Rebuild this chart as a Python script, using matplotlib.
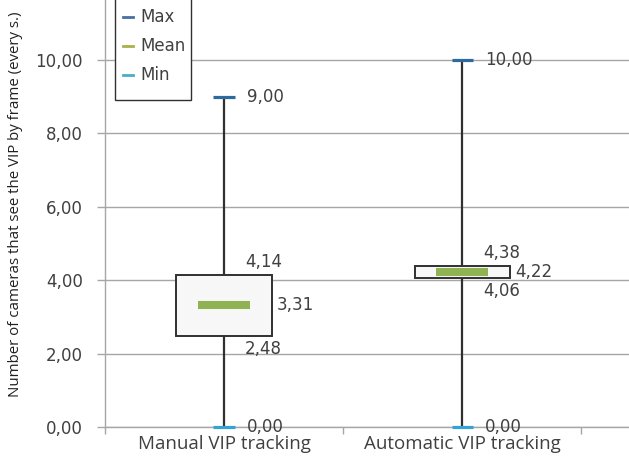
import matplotlib
matplotlib.use("Agg")
import matplotlib.pyplot as plt
from matplotlib.lines import Line2D
from matplotlib.patches import Rectangle
from matplotlib.ticker import FixedLocator, FuncFormatter

categories = ["Manual VIP tracking", "Automatic VIP tracking"]
max_vals = [9.00, 10.00]
q3_vals = [4.14, 4.38]
mean_vals = [3.31, 4.22]
q1_vals = [2.48, 4.06]
min_vals = [0.00, 0.00]
yticks = [0, 2, 4, 6, 8, 10]
legend_labels = ["Max", "Mean", "Min"]
legend_colors = ["#4a6fa0", "#a8b04a", "#4bacc6"]

def fmt(v):
    return f"{v:.2f}".replace(".", ",")

W, H = 629, 459
fig = plt.figure(figsize=(W / 100, H / 100), dpi=100)
left_px, bottom_px = 105, 32
ax = fig.add_axes([left_px / W, bottom_px / H, 1 - left_px / W, 1 - bottom_px / H])

def fx(px):
    return px / W

def fy(py):
    return 1 - py / H

x = [1, 2]
grid_c = "#a6a6a6"
text_c = "#404040"

ax.set_xlim(0.5, 2.70)
ax.set_ylim(0, 11.63)

for s in ["top", "right"]:
    ax.spines[s].set_visible(False)
for s in ["left", "bottom"]:
    ax.spines[s].set_color(grid_c)
    ax.spines[s].set_linewidth(1.0)

ax.set_yticks(yticks)
ax.yaxis.set_major_formatter(FuncFormatter(lambda v, p: fmt(v)))
ax.yaxis.grid(True, color=grid_c, linewidth=1.0, zorder=0)
ax.set_axisbelow(True)
ax.tick_params(axis="y", length=6, width=1, color=grid_c, pad=10,
               labelsize=12, labelcolor=text_c)
for t in ax.get_yticklabels():
    t.set_fontfamily("DejaVu Sans")

ax.set_xticks(x)
ax.set_xticklabels(categories, fontfamily="Open Sans", fontsize=13.5, color=text_c)
ax.tick_params(axis="x", which="major", length=0, pad=6)
ax.xaxis.set_minor_locator(FixedLocator([0.5, 1.5, 2.5]))
ax.tick_params(axis="x", which="minor", length=5, width=1, color=grid_c)

ax.set_ylabel("Number of cameras that see the VIP by frame (every s.)",
              fontfamily="Open Sans", fontsize=10.8, color="#202020")
ax.yaxis.set_label_coords(-0.157, 0.522)

# whiskers
ax.vlines(x, min_vals, max_vals, color="#303030", linewidth=1.6, zorder=2)
# boxes
heights = [a - b for a, b in zip(q3_vals, q1_vals)]
ax.bar(x, heights, bottom=q1_vals, width=0.40, color="#f7f7f7",
       edgecolor="#303030", linewidth=1.4, zorder=3)
# mean
ax.hlines(mean_vals, [v - 0.11 for v in x], [v + 0.11 for v in x],
          color="#8fb352", linewidth=5.8, zorder=4)
# caps
ax.hlines(max_vals, [v - 0.045 for v in x], [v + 0.045 for v in x],
          color="#2e6a9e", linewidth=2.3, zorder=4, clip_on=False)
ax.hlines(min_vals, [v - 0.045 for v in x], [v + 0.045 for v in x],
          color="#34a4d8", linewidth=2.3, zorder=4, clip_on=False)

lab_kw = dict(textcoords="offset pixels", fontsize=12, color=text_c,
              fontfamily="DejaVu Sans", ha="left", va="center")
for i, xi in enumerate(x):
    ax.annotate(fmt(max_vals[i]), (xi, max_vals[i]), xytext=(23, 0), **lab_kw)
    ax.annotate(fmt(min_vals[i]), (xi, min_vals[i]), xytext=(23, 0), **lab_kw)
    ax.annotate(fmt(q3_vals[i]), (xi, q3_vals[i]), xytext=(21, 13), **lab_kw)
    ax.annotate(fmt(q1_vals[i]), (xi, q1_vals[i]), xytext=(21, -13), **lab_kw)
    ax.annotate(fmt(mean_vals[i]), (xi + 0.20, mean_vals[i]), xytext=(5, 0), **lab_kw)

# legend (drawn as a framed box, top edge cropped by the figure)
fig.add_artist(Rectangle((fx(115), fy(100)), fx(191) - fx(115), fy(-5) - fy(100),
                         transform=fig.transFigure, facecolor="white",
                         edgecolor="#303030", linewidth=1.0, zorder=10))
for k, (lab, col) in enumerate(zip(legend_labels, legend_colors)):
    yy = 17 + 29 * k
    fig.add_artist(Line2D([fx(123), fx(133)], [fy(yy), fy(yy)],
                          transform=fig.transFigure, color=col,
                          linewidth=2, zorder=11))
    fig.text(fx(140), fy(yy), lab, fontsize=12, color=text_c,
             fontfamily="DejaVu Sans", ha="left", va="center", zorder=11)

fig.savefig("out.png", dpi=100)
